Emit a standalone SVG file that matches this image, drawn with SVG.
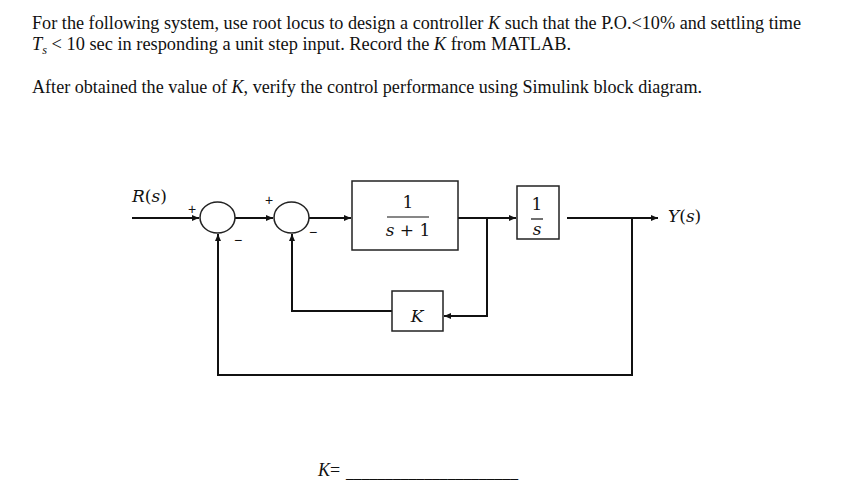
<svg xmlns="http://www.w3.org/2000/svg" width="865" height="494" viewBox="0 0 865 494">
<style>
.t{font-family:"Liberation Serif","Times New Roman",serif;font-size:18px;fill:#111}
.m{font-family:"DejaVu Serif","Liberation Serif",serif;font-size:17px;fill:#111}
.i{font-style:italic}
.blk{fill:#fff;stroke:#222;stroke-width:1.5}
.w{fill:none;stroke:#111;stroke-width:2}
.sg{font-family:"Liberation Sans",Arial,sans-serif;font-size:14px;fill:#111}
</style>
<defs>
<marker id="ah" markerWidth="8" markerHeight="8" refX="7" refY="4" orient="auto" markerUnits="userSpaceOnUse">
<path d="M0,1 L7,4 L0,7 Z" fill="#111"/>
</marker>
</defs>
<rect width="865" height="494" fill="#fff"/>
<g id="question">
<text class="t" x="32" y="29" textLength="769" lengthAdjust="spacingAndGlyphs">For the following system, use root locus to design a controller <tspan class="i">K</tspan> such that the P.O.&lt;10% and settling time</text>
<text class="t" x="32" y="50" textLength="539" lengthAdjust="spacingAndGlyphs"><tspan class="i">T</tspan><tspan class="i" font-size="12" dy="4">s</tspan><tspan dy="-4"> &lt; 10 sec in responding a unit step input. Record the </tspan><tspan class="i">K</tspan> from MATLAB.</text>
<text class="t" x="32" y="93" textLength="670" lengthAdjust="spacingAndGlyphs">After obtained the value of <tspan class="i">K</tspan>, verify the control performance using Simulink block diagram.</text>
</g>
<g id="connectors">
<path class="w" d="M132,218 H199" marker-end="url(#ah)"/>
<path class="w" d="M235,218 H273" marker-end="url(#ah)"/>
<path class="w" d="M309,218 H351" marker-end="url(#ah)"/>
<path class="w" d="M458,218 H516" marker-end="url(#ah)"/>
<path class="w" d="M487,218 V316 H444" marker-end="url(#ah)"/>
<path class="w" d="M392,311 H292 V234" marker-end="url(#ah)"/>
<path class="w" d="M567,218 H658" marker-end="url(#ah)"/>
<path class="w" d="M632,218 V375 H218 V234" marker-end="url(#ah)"/>
</g>
<g id="sum1">
<ellipse class="blk" cx="217.5" cy="217.5" rx="17.5" ry="15.5"/>
<text class="sg" x="192" y="214" text-anchor="middle">+</text>
<text class="sg" x="238" y="245" text-anchor="middle">−</text>
</g>
<g id="sum2">
<ellipse class="blk" cx="291.5" cy="217.5" rx="17.5" ry="15.5"/>
<text class="sg" x="269" y="205" text-anchor="middle">+</text>
<text class="sg" x="313" y="237" text-anchor="middle">−</text>
</g>
<g id="plant1">
<rect class="blk" x="352" y="181" width="106" height="69"/>
<text class="m" x="408" y="208" text-anchor="middle">1</text>
<line x1="387" y1="217" x2="429" y2="217" stroke="#111" stroke-width="1.2"/>
<text class="m" x="408" y="236" text-anchor="middle"><tspan class="i">s</tspan> + 1</text>
</g>
<g id="integrator">
<rect class="blk" x="517" y="186" width="42" height="53"/>
<text class="m" x="537" y="210" text-anchor="middle" font-size="15">1</text>
<line x1="531" y1="219" x2="543" y2="219" stroke="#111" stroke-width="1.2"/>
<text class="m i" x="537" y="235" text-anchor="middle" font-size="15">s</text>
</g>
<g id="gainK">
<rect class="blk" x="392" y="291" width="51" height="40"/>
<text class="m i" x="417" y="322" text-anchor="middle">K</text>
</g>
<g id="labels">
<text class="m" x="132" y="202"><tspan class="i">R</tspan>(<tspan class="i">s</tspan>)</text>
<text class="m" x="668" y="222"><tspan class="i">Y</tspan>(<tspan class="i">s</tspan>)</text>
</g>
<g id="answer">
<text class="t i" x="318" y="476" font-size="17">K</text>
<text class="t" x="330" y="476" font-size="17">=</text>
<text class="t" x="346" y="478" font-size="16" textLength="172" lengthAdjust="spacingAndGlyphs">______________________</text>
</g>
</svg>
